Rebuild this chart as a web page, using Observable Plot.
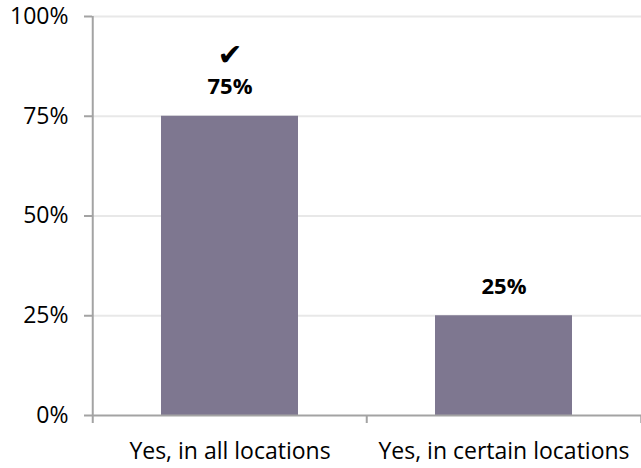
<!DOCTYPE html>
<html>
<head>
<meta charset="utf-8">
<script src="https://cdn.jsdelivr.net/npm/d3@7"></script>
<script src="https://cdn.jsdelivr.net/npm/@observablehq/plot@0.6"></script>
<style>
  html, body { margin: 0; padding: 0; background: #ffffff; }
  #chart svg { display: block; }
</style>
</head>
<body>
<div id="chart"></div>
<script>
// Answer categories and their shares (percent)
const categories = ["Yes, in all locations", "Yes, in certain locations"];
const shares = [75, 25];
// Highlight symbol drawn above a bar's value label
const highlights = ["✔", ""];
// Y-axis ticks (percent)
const yTicks = [0, 25, 50, 75, 100];

const data = categories.map((c, i) => ({category: c, share: shares[i], highlight: highlights[i]}));

const W = 641, H = 468;
const mL = 92, mR = 0, mT = 16, mB = 53;
const step = (W - mL - mR) / categories.length;
const axisGrey = "#a3a3a3";
const font = "'Open Sans', Lato, sans-serif";

// band edges: left edge of every band, plus the right edge of the last one
const edges = categories.map((c, i) => ({category: c, side: -1}))
  .concat([{category: categories[categories.length - 1], side: 1}]);

const chart = Plot.plot({
  width: W,
  height: H,
  marginLeft: mL,
  marginRight: mR,
  marginTop: mT,
  marginBottom: mB,
  style: {fontFamily: font, background: "#ffffff", color: "#000000", overflow: "visible"},
  x: {domain: categories, paddingInner: 0.5, paddingOuter: 0.25, axis: null},
  y: {domain: [0, 100], axis: null},
  marks: [
    // light horizontal gridlines
    Plot.ruleY(yTicks.filter(d => d > 0), {stroke: "#e8e8e8", strokeWidth: 2}),
    // bars
    Plot.barY(data, {x: "category", y: "share", fill: "#7e7790"}),
    // baseline
    Plot.ruleY([0], {stroke: axisGrey, strokeWidth: 2}),
    // left axis line
    Plot.ruleX([categories[0]], {y1: 0, y2: 100, dx: -step / 2, stroke: axisGrey, strokeWidth: 2}),
    // short ticks under the baseline at each band edge
    Plot.ruleX(edges.filter(e => e.side < 0), {x: "category", y1: 0, y2: 0, insetBottom: -8, dx: -step / 2, stroke: axisGrey, strokeWidth: 2}),
    Plot.ruleX(edges.filter(e => e.side > 0), {x: "category", y1: 0, y2: 0, insetBottom: -8, dx: step / 2, stroke: axisGrey, strokeWidth: 2}),
    // y axis ticks and labels
    Plot.axisY(yTicks, {
      label: null,
      tickSize: 8,
      tickPadding: 16,
      tickFormat: d => d + "%",
      stroke: axisGrey,
      strokeWidth: 2,
      fontSize: 23,
      fill: "#000000"
    }),
    // category labels
    Plot.text(data, {x: "category", y: 0, text: "category", dy: 36, fontSize: 23, fill: "#000000", textAnchor: "middle"}),
    // value labels
    Plot.text(data, {x: "category", y: "share", text: d => d.share + "%", dy: -29, fontSize: 22, fontWeight: "bold", fill: "#000000"}),
    // highlight marker
    Plot.text(data.filter(d => d.highlight), {x: "category", y: "share", text: "highlight", dy: -61, fontSize: 30, fill: "#000000", fontFamily: "DejaVu Sans"})
  ]
});

document.getElementById("chart").appendChild(chart);
</script>
</body>
</html>
